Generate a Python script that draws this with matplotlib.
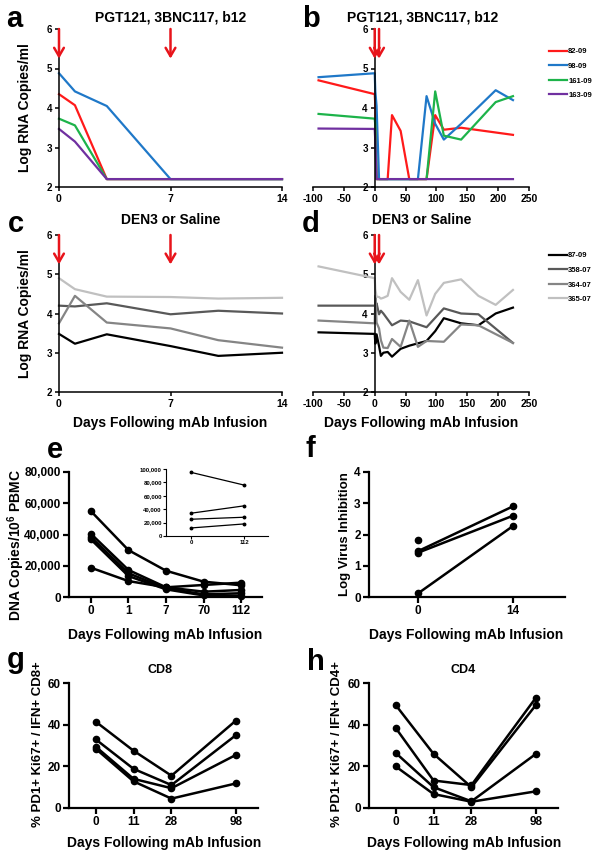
import numpy as np
import matplotlib
matplotlib.use('Agg')
import matplotlib.pyplot as plt
from matplotlib.ticker import FuncFormatter

plt.rcParams['font.family'] = ['Liberation Sans', 'DejaVu Sans']
plt.rcParams['font.weight'] = 'bold'
plt.rcParams['axes.labelweight'] = 'bold'
plt.rcParams['axes.unicode_minus'] = False
plt.rcParams['mathtext.fontset'] = 'custom'
plt.rcParams['mathtext.rm'] = 'Liberation Sans:bold'
plt.rcParams['mathtext.bf'] = 'Liberation Sans:bold'
plt.rcParams['mathtext.default'] = 'bf'

# ---- data: viral load after PGT121/3BNC117/b12 (panels a, b) ----
mab_names = ['82-09', '98-09', '161-09', '163-09']
mab_colors = ['#ff1a1a', '#1f78c8', '#1db34a', '#7030a0']
days_8209 = [-91, 0, 1, 3, 7, 14, 21, 28, 42, 56, 70, 84, 98, 112, 140, 224]
vl_8209 = [4.7, 4.35, 4.07, 2.2, 2.2, 2.2, 2.2, 3.82, 3.42, 2.2, 2.2, 2.2, 3.82, 3.45, 3.5, 3.32]
days_9809 = [-91, 0, 1, 3, 7, 14, 28, 42, 56, 70, 84, 98, 112, 140, 196, 224]
vl_9809 = [4.78, 4.88, 4.42, 4.05, 2.2, 2.2, 2.2, 2.2, 2.2, 2.2, 4.3, 3.6, 3.2, 3.6, 4.45, 4.2]
days_16109 = [-91, 0, 1, 3, 7, 14, 28, 56, 84, 98, 112, 140, 196, 224]
vl_16109 = [3.85, 3.73, 3.56, 2.2, 2.2, 2.2, 2.2, 2.2, 2.2, 4.42, 3.3, 3.2, 4.15, 4.3]
days_16309 = [-91, 0, 1, 3, 14, 224]
vl_16309 = [3.48, 3.47, 3.15, 2.2, 2.2, 2.2]

# ---- data: viral load after DEN3 or saline (panels c, d) ----
ctl_names = ['87-09', '358-07', '364-07', '365-07']
ctl_colors = ['#000000', '#595959', '#858585', '#c0c0c0']
days_8709 = [-91, 0, 1, 3, 7, 10, 14, 21, 28, 42, 56, 84, 98, 112, 140, 168, 196, 224]
vl_8709 = [3.52, 3.48, 3.23, 3.47, 3.17, 2.92, 3.0, 3.02, 2.9, 3.1, 3.18, 3.3, 3.55, 3.88, 3.75, 3.7, 4.0, 4.15]
days_35807 = [-91, 0, 1, 3, 7, 10, 14, 28, 42, 56, 84, 112, 140, 168, 224]
vl_35807 = [4.2, 4.2, 4.18, 4.26, 3.98, 4.07, 4.0, 3.7, 3.82, 3.8, 3.65, 4.13, 4.0, 3.98, 3.25]
days_36407 = [-91, 0, 1, 3, 7, 10, 14, 21, 28, 42, 56, 70, 84, 112, 140, 168, 224]
vl_36407 = [3.82, 3.75, 4.45, 3.77, 3.62, 3.32, 3.13, 3.12, 3.35, 3.15, 3.82, 3.15, 3.3, 3.28, 3.72, 3.7, 3.25]
days_36507 = [-91, 0, 1, 3, 7, 10, 14, 21, 28, 42, 56, 70, 84, 98, 112, 140, 168, 196, 224]
vl_36507 = [5.2, 4.9, 4.62, 4.43, 4.42, 4.38, 4.4, 4.45, 4.9, 4.55, 4.35, 4.85, 3.95, 4.5, 4.78, 4.87, 4.45, 4.22, 4.6]

infusion_days = [0, 7]

# ---- data: proviral DNA (panel e) ----
e_labels = ['0', '1', '7', '70', '112']
e_dna = [
    [55000, 30000, 16800, 9800, 7500],
    [40500, 17300, 6200, 3400, 4500],
    [38400, 15200, 5500, 1700, 2400],
    [36900, 13400, 4900, 1000, 800],
    [18750, 10200, 6200, 7700, 9200],
]
inset_labels = ['0', '112']
inset_dna = [
    [95000, 76000],
    [34000, 45000],
    [25000, 28000],
    [12000, 18000],
]

# ---- data: virus inhibition (panel f) ----
f_labels = ['0', '14']
f_day0 = [1.82, 1.47, 1.42, 0.12]
f_day14 = [np.nan, 2.9, 2.6, 2.27]

# ---- data: PD1+ Ki67+ T cells (panels g, h) ----
gh_labels = ['0', '11', '28', '98']
gh_pos = [0, 1, 2, 3.7]
cd8_pct = [
    [41.5, 27.5, 15.5, 42.0],
    [33.0, 18.8, 11.0, 35.0],
    [29.5, 14.0, 9.5, 25.5],
    [28.5, 12.8, 4.5, 11.8],
]
cd4_pct = [
    [49.5, 26.0, 10.0, 49.5],
    [38.5, 13.2, 11.0, 53.0],
    [26.5, 10.0, 3.2, 26.0],
    [20.0, 6.7, 3.0, 8.0],
]

mab_series = [(days_8209, vl_8209), (days_9809, vl_9809), (days_16109, vl_16109), (days_16309, vl_16309)]
ctl_series = [(days_8709, vl_8709), (days_35807, vl_35807), (days_36407, vl_36407), (days_36507, vl_36507)]

W, H = 601, 857
fig = plt.figure(figsize=(W / 100, H / 100), dpi=100)


def add_ax(x0, y0, x1, y1):
    return fig.add_axes([x0 / W, 1 - y1 / H, (x1 - x0) / W, (y1 - y0) / H])


def style(ax, lw, tick_len, size):
    for s in ['top', 'right']:
        ax.spines[s].set_visible(False)
    for s in ['left', 'bottom']:
        ax.spines[s].set_linewidth(lw)
    ax.tick_params(direction='out', length=tick_len, width=lw, labelsize=size, pad=2)


def label_y(ax, text, x, y=0.5, size=10):
    ax.set_ylabel(text, fontsize=size, fontweight='bold')
    ax.yaxis.label.set_va('center')
    ax.yaxis.set_label_coords(x, y)


def label_x(ax, text, y, x=0.5, size=10):
    ax.set_xlabel(text, fontsize=size, fontweight='bold')
    ax.xaxis.label.set_va('center')
    ax.xaxis.set_label_coords(x, y)


def arrows(ax):
    for d0 in infusion_days:
        ax.annotate('', xy=(d0, 5.25), xytext=(d0, 6.0),
                    arrowprops=dict(arrowstyle='->,head_length=0.6,head_width=0.35',
                                    color='#e8141b', lw=1.8, shrinkA=0, shrinkB=0),
                    annotation_clip=False)


def short_panel(ax, series, colors, title, title_y):
    for (d, v), c in zip(series, colors):
        d = np.array(d)
        v = np.array(v)
        keep = (d >= 0) & (d <= 14)
        ax.plot(d[keep], v[keep], color=c, lw=1.6, clip_on=False)
    ax.set_xlim(0, 14)
    ax.set_ylim(2, 6)
    ax.set_xticks([0, 7, 14])
    ax.set_yticks([2, 3, 4, 5, 6])
    style(ax, 1.1, 3, 7)
    ax.tick_params(axis='x', labelsize=7.5)
    arrows(ax)
    ax.text(0.5, title_y, title, transform=ax.transAxes, ha='center', va='center',
            fontsize=10, fontweight='bold')
    label_y(ax, 'Log RNA Copies/ml', -0.152)


def long_panel(ax, series, colors, names, title, title_y, leg_top):
    for (d, v), c, n in zip(series, colors, names):
        ax.plot(d, v, color=c, lw=1.6, label=n, clip_on=False)
    ax.set_xlim(-100, 250)
    ax.set_ylim(2, 6)
    ax.set_xticks(np.arange(-100, 251, 50))
    ax.set_yticks([2, 3, 4, 5, 6])
    style(ax, 1.1, 3, 7)
    ax.tick_params(axis='x', labelsize=7.5)
    ax.spines['left'].set_position(('data', 0))
    arrows(ax)
    ax.text(0.505, title_y, title, transform=ax.transAxes, ha='center', va='center',
            fontsize=10, fontweight='bold')
    ax.legend(loc='upper left', bbox_to_anchor=(549 / W, 1 - leg_top / H),
              bbox_transform=fig.transFigure, frameon=False, fontsize=5.5,
              handlelength=2.4, handletextpad=0.1, labelspacing=0.95,
              borderpad=0, borderaxespad=0)


# panels a-d
ax_a = add_ax(59, 29, 282, 187)
short_panel(ax_a, mab_series, mab_colors, 'PGT121, 3BNC117, b12', 1.07)
ax_b = add_ax(313, 29, 529, 187)
long_panel(ax_b, mab_series, mab_colors, mab_names, 'PGT121, 3BNC117, b12', 1.07, 48)
ax_c = add_ax(59, 235, 282, 392)
short_panel(ax_c, ctl_series, ctl_colors, 'DEN3 or Saline', 1.095)
label_x(ax_c, 'Days Following mAb Infusion', -0.197)
ax_d = add_ax(313, 235, 529, 392)
long_panel(ax_d, ctl_series, ctl_colors, ctl_names, 'DEN3 or Saline', 1.095, 252)
label_x(ax_d, 'Days Following mAb Infusion', -0.197, x=0.502)

# panel e
ax_e = add_ax(69, 472, 262, 597)
for row in e_dna:
    ax_e.plot(range(len(e_labels)), row, color='black', lw=1.8, marker='o', ms=4.5, clip_on=False)
ax_e.set_xlim(-0.58, 4.55)
ax_e.set_ylim(0, 80000)
ax_e.set_xticks(range(len(e_labels)))
ax_e.set_xticklabels(e_labels)
ax_e.set_yticks([0, 20000, 40000, 60000, 80000])
ax_e.yaxis.set_major_formatter(FuncFormatter(lambda v, p: f'{int(v):,}'))
style(ax_e, 1.6, 4, 8.5)
label_y(ax_e, 'DNA Copies/10$^{6}$ PBMC', -0.275, 0.416)
label_x(ax_e, 'Days Following mAb Infusion', -0.3)

ax_in = add_ax(166, 469, 268, 536)
for row in inset_dna:
    ax_in.plot(range(len(inset_labels)), row, color='black', lw=0.9, marker='o', ms=1.8, clip_on=False)
ax_in.set_xlim(-0.47, 1.45)
ax_in.set_ylim(0, 100000)
ax_in.set_xticks(range(len(inset_labels)))
ax_in.set_xticklabels(inset_labels)
ax_in.set_yticks(np.arange(0, 100001, 20000))
ax_in.yaxis.set_major_formatter(FuncFormatter(lambda v, p: f'{int(v):,}'))
style(ax_in, 0.8, 2, 4.3)
ax_in.tick_params(pad=1)

# panel f
ax_f = add_ax(369, 472, 565, 597)
for a0, a14 in zip(f_day0, f_day14):
    ax_f.plot([0, 1], [a0, a14], color='black', lw=1.8, marker='o', ms=4.5, clip_on=False)
ax_f.set_xlim(-0.52, 1.55)
ax_f.set_ylim(0, 4)
ax_f.set_xticks([0, 1])
ax_f.set_xticklabels(f_labels)
ax_f.set_yticks([0, 1, 2, 3, 4])
style(ax_f, 1.6, 4, 8.5)
label_y(ax_f, 'Log Virus Inhibition', -0.122, size=9.5)
label_x(ax_f, 'Days Following mAb Infusion', -0.3, x=0.495)


# panels g, h
def pct_panel(ax, data, title, tx, ylab, ylx):
    for row in data:
        ax.plot(gh_pos, row, color='black', lw=1.8, marker='o', ms=4.5, clip_on=False)
    ax.set_xlim(-0.7, 4.28)
    ax.set_ylim(0, 60)
    ax.set_xticks(gh_pos)
    ax.set_xticklabels(gh_labels)
    ax.set_yticks([0, 20, 40, 60])
    style(ax, 1.6, 4, 8.5)
    ax.text(tx, 1.104, title, transform=ax.transAxes, ha='center', va='center',
            fontsize=9, fontweight='bold')
    label_y(ax, ylab, ylx, 0.512, size=9.5)
    label_x(ax, 'Days Following mAb Infusion', -0.28, x=0.505)


ax_g = add_ax(69, 683, 258, 808)
pct_panel(ax_g, cd8_pct, 'CD8', 0.48, '% PD1+ Ki67+ / IFN+ CD8+', -0.164)
ax_h = add_ax(369, 683, 558, 808)
pct_panel(ax_h, cd4_pct, 'CD4', 0.5, '% PD1+ Ki67+ / IFN+ CD4+', -0.169)

# panel letters
for letter, x, y in [('a', 6, 27), ('b', 302, 27), ('c', 8, 232), ('d', 302, 232),
                     ('e', 47, 458), ('f', 305, 457), ('g', 7, 668), ('h', 307, 670)]:
    fig.text(x / W, 1 - y / H, letter, fontsize=21, fontweight='bold', va='baseline', ha='left')

fig.savefig('out.png', dpi=100, facecolor='white')
